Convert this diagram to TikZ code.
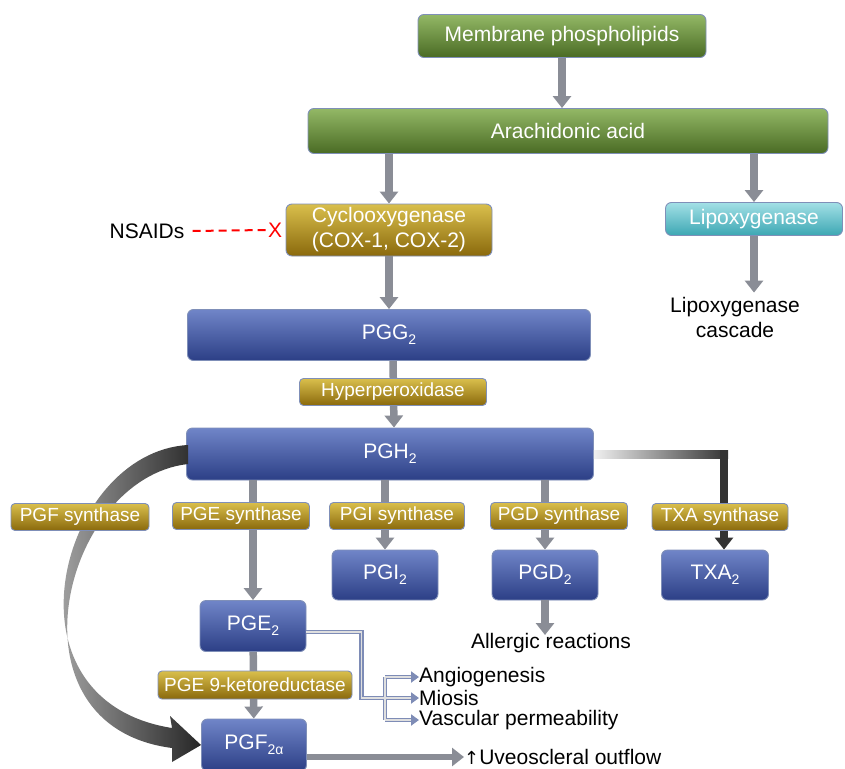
\documentclass[tikz,border=0pt]{standalone}
\usepackage{fontspec}
\setmainfont{Liberation Sans}
\newfontfamily\symfont{DejaVu Sans}
\usetikzlibrary{arrows.meta,calc}
\definecolor{boxline}{HTML}{7F8FB8}
\definecolor{gtop}{HTML}{93B866}
\definecolor{gbot}{HTML}{4A6B24}
\definecolor{otop}{HTML}{D9BF4C}
\definecolor{obot}{HTML}{8A690C}
\definecolor{btop}{HTML}{7085C8}
\definecolor{bbot}{HTML}{2C3F86}
\definecolor{ttop}{HTML}{A3E0E6}
\definecolor{tbot}{HTML}{3CA7B3}
\definecolor{flowgray}{HTML}{8A8D96}
\definecolor{effblue}{HTML}{7E8CB6}
\newcommand\subs[1]{\raisebox{-5pt}{\fontsize{14}{14}\selectfont #1}}
\begin{document}
\begin{tikzpicture}[x=1pt,y=-1pt,
  box/.style={rounded corners=6pt, draw=boxline, line width=0.9pt, text=white,
    font=\fontsize{21}{25}\selectfont, inner sep=0pt, align=center},
  greenbox/.style={box, top color=gtop, bottom color=gbot},
  goldbox/.style={box, top color=otop, bottom color=obot},
  enzbox/.style={goldbox, rounded corners=4pt, font=\fontsize{19}{22}\selectfont, minimum height=27pt},
  bluebox/.style={box, top color=btop, bottom color=bbot},
  tealbox/.style={box, top color=ttop, bottom color=tbot},
  plain/.style={inner sep=0pt, text=black, font=\fontsize{21}{25}\selectfont, align=center},
  flow/.style={line width=7.5pt, draw=flowgray, -{Triangle[width=18pt,length=12pt]}},
  effout/.style={line width=4.5pt, draw=effblue},
  effin/.style={line width=1.6pt, draw=gray!25},
  eff/.style={effout, -{Triangle[width=11pt,length=8pt]}},
]
\useasboundingbox (0,0) rectangle (845,768);

% main nodes
\node[greenbox, minimum width=288pt, minimum height=43pt] (mem) at (562,36) {Membrane phospholipids};
\node[greenbox, minimum width=520pt, minimum height=45pt] (ara) at (568,131) {Arachidonic acid};
\node[goldbox, minimum width=206pt, minimum height=52pt] (cox) at (389,230) {Cyclooxygenase\\(COX-1, COX-2)};
\node[tealbox, minimum width=177pt, minimum height=33pt] (lipo) at (754,219) {Lipoxygenase};
\node[plain] (casc) at (735,317) {Lipoxygenase\\cascade};
\node[plain] (nsaid) at (147,231) {NSAIDs};
\node[plain, text=red] (xmark) at (275,230) {X};
\node[bluebox, minimum width=403pt, minimum height=51pt] (pgg) at (389,335) {PGG\subs{2}};
\node[bluebox, minimum width=407pt, minimum height=52pt] (pgh) at (390,454) {PGH\subs{2}};
\node[bluebox, minimum width=106pt, minimum height=50pt] (pgi) at (385,575) {PGI\subs{2}};
\node[bluebox, minimum width=106pt, minimum height=50pt] (pgd) at (545,575) {PGD\subs{2}};
\node[bluebox, minimum width=107pt, minimum height=50pt] (txa) at (715,575) {TXA\subs{2}};
\node[bluebox, minimum width=106pt, minimum height=51pt] (pge) at (253,626) {PGE\subs{2}};
\node[bluebox, minimum width=105pt, minimum height=52pt] (pgf) at (254,745) {PGF\subs{2α}};
\node[plain] (allerg) at (551,643) {Allergic reactions};
\node[plain, anchor=west] (angio) at (419,677) {Angiogenesis};
\node[plain, anchor=west] (miosis) at (419,698) {Miosis};
\node[plain, anchor=west] (vasc) at (419,720) {Vascular permeability};
\node[plain, anchor=west] (uveo) at (464,757) {{\symfont\fontsize{18}{20}\selectfont ↑}Uveoscleral outflow};
\coordinate (br) at (385,698);
\coordinate (pgeout) at ([yshift=-6pt]pge.east);
\coordinate (txc) at ([xshift=9pt]txa.north);

% connectors
\draw[flow] (mem.south) -- (mem.south |- ara.north);
\draw[flow] (cox.north |- ara.south) -- (cox.north);
\draw[flow] (lipo.north |- ara.south) -- (lipo.north);
\draw[flow] (lipo.south) -- ([yshift=4pt]lipo.south |- casc.north);
\draw[flow] (cox) -- (pgg);
\draw[flow] ([xshift=4pt]pgg.south) -- ([xshift=4pt]pgh.north);
\draw[flow] (pge.north |- pgh.south) -- (pge.north);
\draw[flow] (pgi.north |- pgh.south) -- (pgi.north);
\draw[flow] (pgd.north |- pgh.south) -- (pgd.north);
\shade[left color=gray!12, right color=gray!40!black]
  ($(pgh.east)+(0,-4)$) rectangle ($(txc |- pgh.east)+(4,4)$);
\draw[flow, draw=gray!40!black, shorten <=-4pt] (txc |- pgh.east) -- (txc);
\draw[flow] (pgd.south) -- ([yshift=-2pt]pgd.south |- allerg.north);
\draw[flow] (pge) -- (pgf);
\draw[flow, line width=6.5pt] (pgf.east |- uveo.west) -- (uveo.west);
\draw[red, line width=2pt, dash pattern=on 8pt off 5pt] ([xshift=8pt]nsaid.east) -- ([xshift=-2pt]xmark.west);
% PGE2 effects
\draw[effout] (pgeout) -- ++(55,0) |- (br);
\draw[effout] (br |- angio.west) -- (br |- vasc.west);
\draw[eff] (br |- angio.west) -- (angio.west);
\draw[eff] (br) -- (miosis.west);
\draw[eff] (br |- vasc.west) -- (vasc.west);
\draw[effin] (pgeout) -- ++(55,0) |- (br);
\draw[effin] (br |- angio.west) -- (br |- vasc.west);
\draw[effin, shorten >=8pt] (br |- angio.west) -- (angio.west);
\draw[effin, shorten >=8pt] (br) -- (miosis.west);
\draw[effin, shorten >=8pt] (br |- vasc.west) -- (vasc.west);
% curved ribbon arrow PGH2 -> PGF2a
\shade[left color=gray!30, right color=gray!30!black]
  ($(pgh.west)+(2,-9)$) .. controls (60,452) and (-5,700) .. (172,728)
  -- (170,716) -- (pgf.west) -- (172,762) -- (172,748)
  .. controls (2,726) and (62,478) .. ($(pgh.west)+(2,10)$) -- cycle;

% enzyme labels on top
\node[enzbox, minimum width=187pt] (hyper) at (393,392) {Hyperperoxidase};
\node[enzbox, minimum width=138pt] (pgfs) at (80,517) {PGF synthase};
\node[enzbox, minimum width=137pt] (pges) at (241,516) {PGE synthase};
\node[enzbox, minimum width=135pt] (pgis) at (397,516) {PGI synthase};
\node[enzbox, minimum width=137pt] (pgds) at (559,516) {PGD synthase};
\node[enzbox, minimum width=136pt] (txas) at (720,517) {TXA synthase};
\node[enzbox, minimum width=194pt, minimum height=28pt] (keto) at (255,685) {PGE 9-ketoreductase};
\end{tikzpicture}
\end{document}
